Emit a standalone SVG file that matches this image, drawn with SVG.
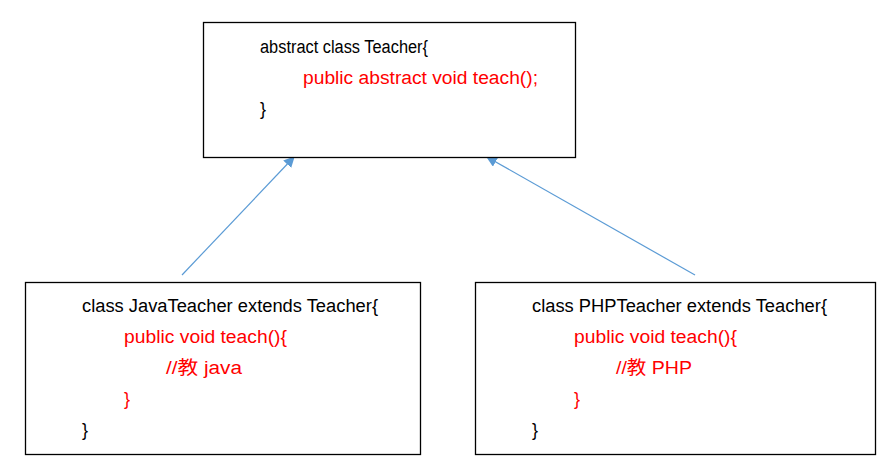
<svg xmlns="http://www.w3.org/2000/svg" width="885" height="472" viewBox="0 0 885 472">
<style>
.box{fill:#fff;stroke:#000;stroke-width:1.3}
text{font-family:"Liberation Sans","Noto Sans CJK SC",sans-serif;font-size:18px}
.k{fill:#000}
.r{fill:#ff0000}
.c{stroke:#5b9bd5;stroke-width:1.2;fill:none}
</style>
<defs>
<marker id="ah" viewBox="0 0 10 10" refX="9" refY="5" markerWidth="11" markerHeight="11" markerUnits="userSpaceOnUse" orient="auto">
<path d="M0,0 L10,5 L0,10 z" fill="#5b9bd5"/>
</marker>
</defs>
<rect width="885" height="472" fill="#fff"/>
<g id="connectors">
<line class="c" x1="182" y1="275" x2="294" y2="157" marker-end="url(#ah)"/>
<line class="c" x1="695" y1="275" x2="487" y2="157" marker-end="url(#ah)"/>
</g>
<g id="teacher">
<rect class="box" x="203.5" y="22.5" width="372" height="135"/>
<text class="k" x="260" y="53" textLength="168" lengthAdjust="spacingAndGlyphs">abstract class Teacher{</text>
<text class="r" x="303" y="84" textLength="235" lengthAdjust="spacingAndGlyphs">public abstract void teach();</text>
<text class="k" x="260" y="115">}</text>
</g>
<g id="javaTeacher">
<rect class="box" x="25.5" y="282.5" width="395" height="172"/>
<text class="k" x="82" y="312" textLength="296" lengthAdjust="spacingAndGlyphs">class JavaTeacher extends Teacher{</text>
<text class="r" x="124" y="343" textLength="163" lengthAdjust="spacingAndGlyphs">public void teach(){</text>
<text class="r" x="166" y="374" textLength="76" lengthAdjust="spacingAndGlyphs">//教 java</text>
<text class="r" x="124" y="405">}</text>
<text class="k" x="82" y="436">}</text>
</g>
<g id="phpTeacher">
<rect class="box" x="475.5" y="282.5" width="400" height="172"/>
<text class="k" x="532" y="312" textLength="295" lengthAdjust="spacingAndGlyphs">class PHPTeacher extends Teacher{</text>
<text class="r" x="574" y="343" textLength="163" lengthAdjust="spacingAndGlyphs">public void teach(){</text>
<text class="r" x="616" y="374" textLength="76" lengthAdjust="spacingAndGlyphs">//教 PHP</text>
<text class="r" x="574" y="405">}</text>
<text class="k" x="532" y="436">}</text>
</g>
</svg>
